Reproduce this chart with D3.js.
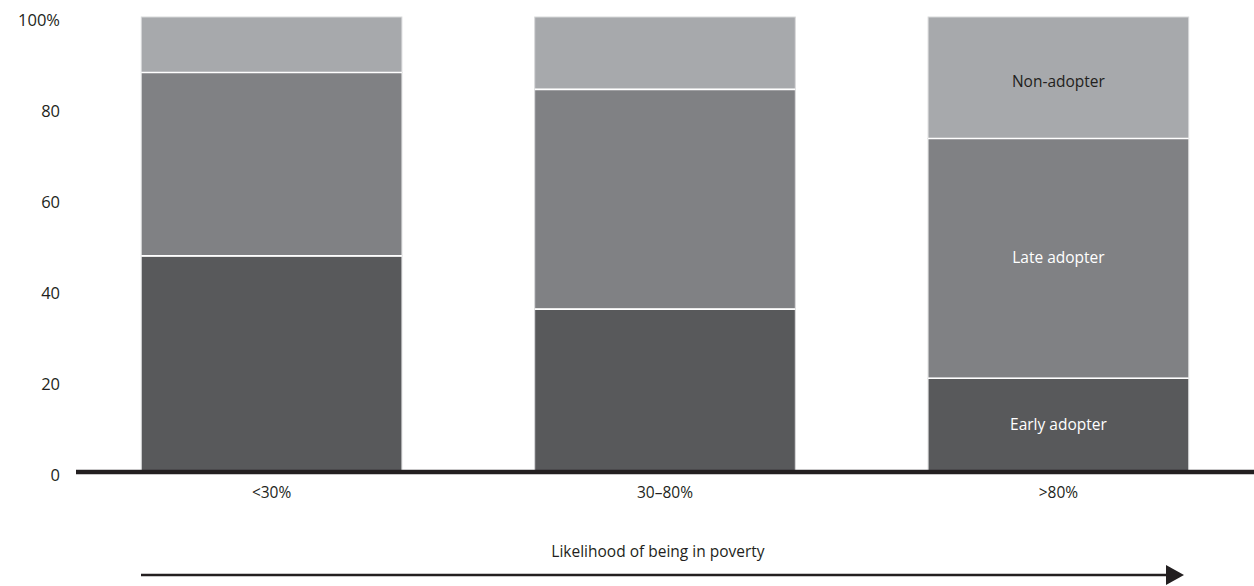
<!DOCTYPE html>
<html>
<head>
<meta charset="utf-8">
<script src="https://cdn.jsdelivr.net/npm/d3@7"></script>
<style>
  body { margin: 0; background: #fff; }
  svg { display: block; font-family: "Open Sans", "Lato", sans-serif; }
</style>
</head>
<body>
<svg id="chart" width="1254" height="586"></svg>
<script>
const categories = ["<30%", "30–80%", ">80%"];
const seriesNames = ["Early adopter", "Late adopter", "Non-adopter"];
const earlyAdopter = [47.5, 35.8, 20.6];
const lateAdopter = [40.3, 48.3, 52.7];
const nonAdopter = [12.2, 15.9, 26.7];
const yTicks = [0, 20, 40, 60, 80, 100];
const yTickLabels = ["0", "20", "40", "60", "80", "100%"];
const axisTitle = "Likelihood of being in poverty";

const colors = ["#58595b", "#808184", "#a7a9ac"];
const labelColors = ["#ffffff", "#ffffff", "#231f20"];
const FONT = "'Open Sans', sans-serif";

const svg = d3.select("#chart");
const x = d3.scaleBand().domain(categories).range([76, 1254]).paddingInner(0.3376).paddingOuter(0.166);
const y = d3.scaleLinear().domain([0, 100]).range([472, 17]);

const rows = categories.map((c, i) => ({cat: c, "Early adopter": earlyAdopter[i], "Late adopter": lateAdopter[i], "Non-adopter": nonAdopter[i]}));
const stack = d3.stack().keys(seriesNames)(rows);

const g = svg.append("g");
stack.forEach((layer, li) => {
  g.selectAll(null).data(layer).enter().append("rect")
    .attr("x", d => x(d.data.cat))
    .attr("width", x.bandwidth())
    .attr("y", d => y(d[1]))
    .attr("height", d => y(d[0]) - y(d[1]))
    .attr("fill", colors[li])
    .attr("stroke", "#d8d9da")
    .attr("stroke-width", 1);
});
stack.slice(1).forEach(layer => {
  g.selectAll(null).data(layer).enter().append("line")
    .attr("x1", d => x(d.data.cat)).attr("x2", d => x(d.data.cat) + x.bandwidth())
    .attr("y1", d => y(d[0])).attr("y2", d => y(d[0]))
    .attr("stroke", "#ffffff").attr("stroke-width", 1.6);
});

const lastIdx = categories.length - 1;
stack.forEach((layer, li) => {
  const d = layer[lastIdx];
  g.append("text")
    .attr("x", x(d.data.cat) + x.bandwidth() / 2)
    .attr("y", li === 2 ? y(d[1]) + 70 : (y(d[0]) + y(d[1])) / 2 + 5)
    .attr("text-anchor", "middle")
    .attr("font-size", 15.5)
    .attr("fill", labelColors[li])
    .text(seriesNames[li]);
});

const yAxis = d3.axisLeft(y).tickValues(yTicks).tickFormat((d, i) => yTickLabels[i]).tickSize(0).tickPadding(0);
const ya = svg.append("g").attr("transform", "translate(60,0)").call(yAxis);
ya.select(".domain").remove();
ya.selectAll("text").attr("font-size", 16.5).attr("fill", "#231f20").attr("font-family", FONT).attr("dy", "0.5em");

svg.append("line").attr("x1", 76).attr("x2", 1254).attr("y1", y(0)).attr("y2", y(0))
  .attr("stroke", "#231f20").attr("stroke-width", 4.5);

const xAxis = d3.axisBottom(x).tickSize(0).tickPadding(0);
const xa = svg.append("g").attr("transform", `translate(0,${y(0) + 15})`).call(xAxis);
xa.select(".domain").remove();
xa.selectAll("text").attr("font-size", 15.5).attr("fill", "#231f20").attr("font-family", FONT);

svg.append("line").attr("x1", 141).attr("x2", 1170).attr("y1", 575).attr("y2", 575)
  .attr("stroke", "#231f20").attr("stroke-width", 2.5);
svg.append("path").attr("d", "M1166,565 L1184,575 L1166,585 Z").attr("fill", "#231f20");
svg.append("text").attr("x", 658).attr("y", 557).attr("text-anchor", "middle")
  .attr("font-size", 15.5).attr("fill", "#231f20").text(axisTitle);
</script>
</body>
</html>
